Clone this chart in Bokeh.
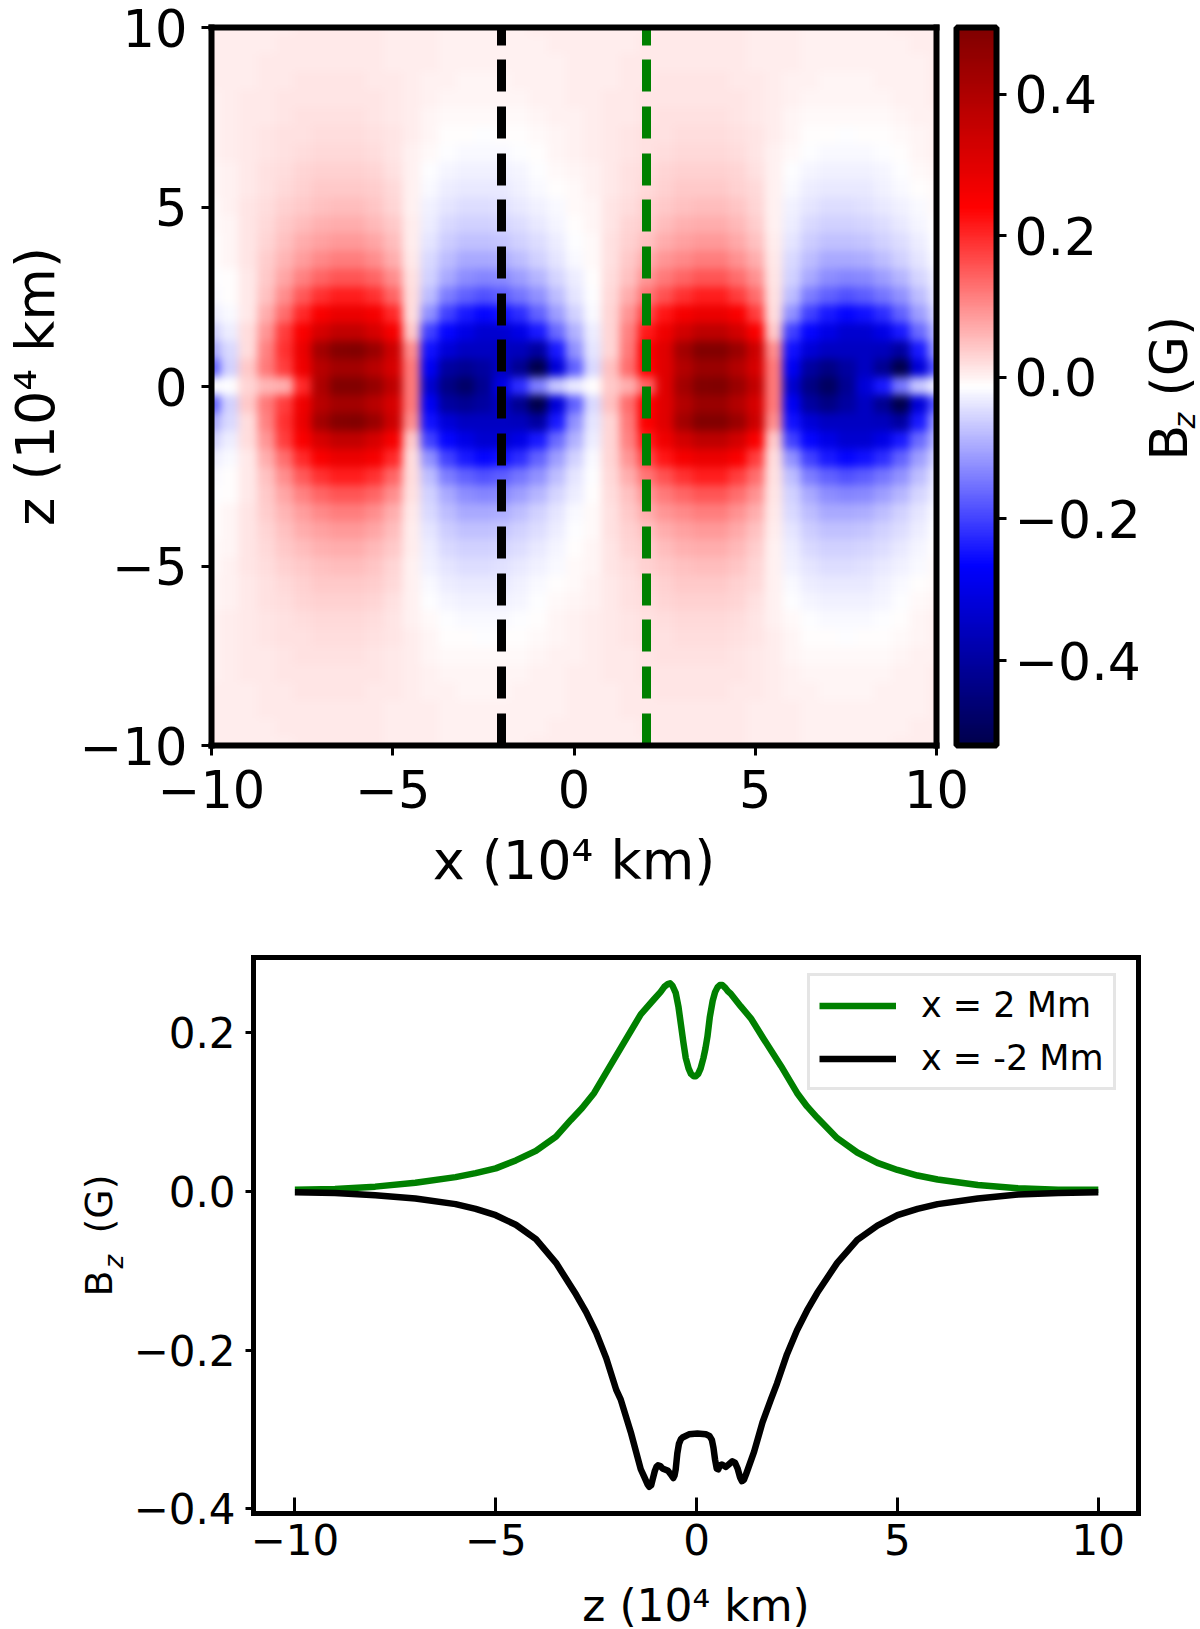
import numpy as np
from bokeh.document import Document
from bokeh.embed import file_html
from bokeh.layouts import column, row
from bokeh.models import ColorBar, CustomJS, FixedTicker, Label, Legend, LinearAxis, LinearColorMapper
from bokeh.plotting import figure
from bokeh.resources import INLINE

# Bz map, one list per z level (lower half mirrors the upper half)
# columns go from x = -10 to x = 10 in steps of 0.5
bz_z00 = [-.02,-.015,.03,.06,.07,.2,.4,.49,.49,.45,.37,.12,-.33,-.44,-.48,-.42,-.305,-.22,-.14,-.07,-.035,-.013,.04,.07,.145,.3,.42,.49,.5,.44,.36,.12,-.33,-.44,-.49,-.42,-.32,-.24,-.15,-.07,-.03]
bz_z05 = [-.17,-.06,.04,.12,.18,.27,.38,.42,.42,.38,.32,.12,-.28,-.4,-.42,-.4,-.35,-.42,-.52,-.32,-.17,-.05,.05,.13,.24,.3,.39,.44,.44,.39,.32,.12,-.28,-.4,-.44,-.4,-.35,-.42,-.52,-.32,-.18]
bz_z10 = [-.1,-.05,.02,.11,.19,.28,.42,.48,.49,.44,.34,.1,-.25,-.32,-.35,-.35,-.35,-.36,-.4,-.24,-.12,-.04,.03,.12,.245,.3,.42,.49,.49,.44,.34,.1,-.25,-.32,-.35,-.35,-.35,-.36,-.4,-.24,-.12]
bz_z15 = [-.06,-.03,.02,.09,.18,.25,.32,.36,.36,.32,.26,.04,-.2,-.26,-.3,-.33,-.33,-.3,-.24,-.16,-.09,-.03,.03,.11,.215,.27,.33,.37,.37,.33,.25,.04,-.2,-.26,-.3,-.33,-.33,-.3,-.24,-.16,-.09]
bz_z20 = [-.03,-.02,.01,.07,.13,.2,.25,.28,.28,.26,.2,.02,-.12,-.2,-.24,-.26,-.25,-.22,-.17,-.11,-.06,-.02,.03,.09,.17,.22,.26,.28,.28,.25,.18,.02,-.12,-.2,-.24,-.26,-.25,-.22,-.17,-.11,-.06]
bz_z25 = [-.02,-.012,.01,.05,.1,.15,.19,.21,.21,.19,.14,.02,-.08,-.14,-.17,-.185,-.175,-.15,-.12,-.08,-.04,-.015,.025,.07,.125,.16,.19,.21,.21,.18,.13,.015,-.08,-.14,-.17,-.185,-.175,-.15,-.12,-.08,-.04]
bz_z30 = [-.015,-.01,.01,.04,.075,.11,.14,.155,.155,.14,.1,.015,-.06,-.1,-.125,-.135,-.13,-.11,-.085,-.055,-.03,-.012,.02,.05,.093,.12,.14,.155,.155,.13,.095,.012,-.06,-.1,-.125,-.135,-.13,-.11,-.085,-.055,-.03]
bz_z35 = [-.012,-.005,.012,.035,.06,.085,.105,.115,.115,.1,.07,.01,-.05,-.08,-.1,-.1,-.095,-.08,-.06,-.04,-.02,-.008,.018,.04,.068,.09,.105,.115,.115,.095,.07,.008,-.05,-.08,-.1,-.1,-.095,-.08,-.06,-.04,-.02]
bz_z40 = [-.01,-.004,.012,.03,.05,.068,.08,.088,.088,.076,.052,.005,-.04,-.062,-.074,-.076,-.07,-.06,-.045,-.03,-.016,-.006,.016,.032,.05,.068,.08,.088,.088,.072,.05,.004,-.04,-.062,-.074,-.076,-.07,-.06,-.045,-.03,-.016]
bz_z45 = [-.008,-.002,.012,.026,.04,.054,.063,.068,.068,.058,.04,.003,-.032,-.05,-.058,-.06,-.054,-.046,-.034,-.022,-.012,-.004,.014,.028,.038,.054,.063,.068,.068,.055,.038,.002,-.032,-.05,-.058,-.06,-.055,-.046,-.034,-.022,-.012]
bz_z50 = [-.006,0,.011,.022,.032,.042,.05,.053,.053,.045,.03,.002,-.026,-.04,-.046,-.047,-.042,-.036,-.027,-.018,-.009,-.002,.012,.022,.032,.042,.05,.053,.053,.043,.03,.002,-.026,-.04,-.046,-.047,-.043,-.036,-.027,-.018,-.009]
bz_z55 = [-.005,.001,.01,.018,.026,.034,.04,.042,.042,.035,.024,.002,-.02,-.032,-.036,-.036,-.033,-.028,-.02,-.013,-.006,.001,.01,.018,.026,.034,.04,.042,.042,.034,.023,.002,-.02,-.032,-.036,-.036,-.033,-.028,-.02,-.013,-.006]
bz_z60 = [-.003,.002,.009,.015,.021,.027,.031,.033,.033,.027,.018,.002,-.014,-.023,-.027,-.027,-.025,-.021,-.015,-.009,-.003,.002,.009,.015,.021,.027,.031,.033,.033,.027,.018,.002,-.014,-.023,-.027,-.027,-.025,-.021,-.015,-.009,-.003]
bz_z65 = [-.001,.003,.008,.013,.018,.022,.025,.026,.026,.021,.014,.002,-.009,-.016,-.019,-.02,-.018,-.015,-.01,-.005,-.001,.003,.008,.013,.018,.022,.025,.026,.026,.021,.014,.002,-.009,-.016,-.019,-.02,-.018,-.015,-.01,-.005,-.001]
bz_z70 = [0,.003,.007,.011,.015,.018,.02,.021,.021,.017,.011,.003,-.005,-.01,-.013,-.014,-.012,-.01,-.006,-.002,.001,.004,.007,.011,.015,.018,.02,.021,.021,.017,.011,.003,-.005,-.01,-.013,-.014,-.012,-.01,-.006,-.002,.001]
bz_z75 = [.001,.004,.007,.01,.013,.015,.017,.017,.017,.014,.009,.004,-.002,-.006,-.008,-.009,-.008,-.006,-.003,0,.002,.005,.007,.01,.013,.015,.017,.017,.017,.014,.009,.004,-.002,-.006,-.008,-.009,-.008,-.006,-.003,0,.002]
bz_z80 = [.002,.004,.007,.009,.011,.013,.014,.014,.014,.012,.008,.004,0,-.003,-.005,-.005,-.004,-.003,-.001,.001,.003,.005,.007,.009,.011,.013,.014,.014,.014,.012,.008,.004,0,-.003,-.005,-.005,-.004,-.003,-.001,.001,.003]
bz_z85 = [.003,.004,.006,.008,.01,.011,.012,.012,.012,.01,.007,.004,.002,0,-.002,-.002,-.002,-.001,.001,.002,.003,.005,.006,.008,.01,.011,.012,.012,.012,.01,.007,.004,.002,0,-.002,-.002,-.002,-.001,.001,.002,.003]
bz_z90 = [.003,.004,.006,.007,.008,.009,.01,.01,.01,.009,.006,.004,.003,.001,0,0,0,.001,.002,.002,.003,.004,.006,.007,.008,.009,.01,.01,.01,.009,.006,.004,.003,.001,0,0,0,.001,.002,.002,.003]
bz_z95 = [.003,.004,.005,.006,.007,.008,.008,.009,.009,.008,.006,.004,.003,.002,.001,.001,.001,.002,.002,.003,.003,.004,.005,.006,.007,.008,.008,.009,.009,.008,.006,.004,.003,.002,.001,.001,.001,.002,.002,.003,.003]
bz_z100 = [.003,.004,.005,.005,.006,.007,.007,.008,.008,.007,.005,.004,.003,.002,.002,.002,.002,.002,.003,.003,.003,.004,.005,.005,.006,.007,.007,.008,.008,.007,.005,.004,.003,.002,.002,.002,.002,.002,.003,.003,.003]

# cuts along z
z_green = [-10,-9,-8,-7,-6,-5.5,-5,-4.5,-4,-3.5,-3.13,-2.85,-2.55,-2.13,-1.72,-1.39,-1.06,-.9,-.8,-.72,-.66,-.6,-.52,-.45,-.39,-.33,-.27,-.2,-.14,-.07,-.02,.04,.1,.17,.22,.27,.33,.4,.46,.52,.58,.64,.72,.78,.85,1.1,1.35,1.67,2.1,2.5,2.75,3,3.5,4,4.5,5,5.5,6,7,8,9,10]
bz_green = [.002,.003,.006,.011,.018,.023,.029,.039,.051,.069,.09,.105,.124,.16,.195,.223,.242,.251,.258,.261,.262,.259,.25,.232,.21,.188,.168,.155,.148,.145,.145,.148,.155,.168,.18,.195,.22,.24,.251,.257,.26,.26,.256,.252,.249,.233,.218,.192,.158,.124,.107,.093,.067,.049,.036,.027,.02,.015,.008,.004,.002,.002]
z_black = [-10,-9,-8,-7,-6,-5.5,-5,-4.5,-4,-3.5,-3,-2.75,-2.5,-2.25,-2,-1.89,-1.64,-1.39,-1.3,-1.22,-1.18,-1.13,-1.08,-1.04,-1,-.96,-.9,-.85,-.71,-.62,-.58,-.55,-.52,-.48,-.44,-.39,-.35,-.19,.02,.23,.32,.38,.42,.46,.5,.54,.58,.63,.73,.82,.89,.96,1.02,1.08,1.13,1.18,1.24,1.43,1.64,1.85,2,2.25,2.5,2.75,3,3.5,4,4.5,5,5.5,6,7,8,9,10]
bz_black = [-.001,-.002,-.005,-.009,-.016,-.022,-.03,-.042,-.06,-.09,-.13,-.152,-.178,-.21,-.25,-.262,-.303,-.35,-.36,-.369,-.372,-.37,-.36,-.352,-.347,-.345,-.346,-.349,-.352,-.358,-.361,-.358,-.35,-.33,-.318,-.312,-.31,-.306,-.305,-.306,-.308,-.313,-.323,-.338,-.349,-.35,-.345,-.344,-.347,-.343,-.34,-.342,-.349,-.36,-.365,-.363,-.355,-.328,-.291,-.262,-.242,-.205,-.175,-.15,-.128,-.09,-.061,-.043,-.03,-.022,-.016,-.009,-.004,-.002,-.001]

map_ticks = [-10, -5, 0, 5, 10]
cbar_ticks = [-0.4, -0.2, 0.0, 0.2, 0.4]
cut_x_ticks = [-10, -5, 0, 5, 10]
cut_y_ticks = [-0.4, -0.2, 0.0, 0.2]


def minus(v, fmt):
    return (fmt % v).replace("-", "\u2212")


def box_axes(p, width):
    # spines as axis lines, because the outline gets cut at the frame
    p.outline_line_color = None
    p.add_layout(LinearAxis(ticker=FixedTicker(ticks=[]), minor_tick_line_color=None), "above")
    p.add_layout(LinearAxis(ticker=FixedTicker(ticks=[]), minor_tick_line_color=None), "right")
    for ax in p.axis:
        ax.axis_line_color = "black"
        ax.axis_line_width = width
        ax.axis_line_cap = "square"


def vertical_label(p, x, y, text, size, **kw):
    p.add_layout(Label(x=x, y=y, x_units="screen", y_units="screen", text=text, angle=90, angle_units="deg",
                       text_font=FONT, text_font_size=size, text_color="black", text_baseline="middle", **kw))


def label_strip(width, height, top, bottom):
    # Labels get clipped to the frame, so "B_z (G)" needs a frame of its own
    s = figure(output_backend="svg", toolbar_location=None, x_range=(0, 1), y_range=(0, 1),
               x_axis_location=None, y_axis_location=None, frame_width=width, frame_height=height,
               min_border_left=0, min_border_right=0, min_border_top=top, min_border_bottom=bottom)
    s.outline_line_color = None
    s.grid.visible = False
    return s


# seismic colormap
pos = [0, 0.25, 0.5, 0.75, 1]
r = np.interp(np.linspace(0, 1, 256), pos, [0, 0, 1, 1, 0.5])
g = np.interp(np.linspace(0, 1, 256), pos, [0, 0, 1, 0, 0])
b = np.interp(np.linspace(0, 1, 256), pos, [0.3, 1, 1, 0, 0])
seismic = ["#%02x%02x%02x" % (round(a * 255), round(c * 255), round(d * 255)) for a, c, d in zip(r, g, b)]
mapper = LinearColorMapper(palette=seismic, low=-0.52, high=0.494)

upper = [bz_z00, bz_z05, bz_z10, bz_z15, bz_z20, bz_z25, bz_z30, bz_z35, bz_z40, bz_z45, bz_z50,
         bz_z55, bz_z60, bz_z65, bz_z70, bz_z75, bz_z80, bz_z85, bz_z90, bz_z95, bz_z100]
bz_map = np.array(upper[::-1] + upper[1:], dtype=float)
bz_map = np.pad(bz_map, 1, mode="edge")  # one spare cell outside the frame all around

FONT = "DejaVu Sans"
DASH = [32, 15, 32, 15, 32, 14]

################# top panel
p1 = figure(output_backend="svg", toolbar_location=None, x_range=(-10, 10), y_range=(-10, 10),
            frame_width=725, frame_height=718, min_border_left=211, min_border_right=212,
            min_border_top=27, min_border_bottom=150,
            x_axis_label="x (10\u2074 km)", y_axis_label="z (10\u2074 km)")
p1.image(image=[bz_map], x=-10.75, y=-10.75, dw=21.5, dh=21.5, color_mapper=mapper)
p1.line([-2, -2], [-10, 10], line_color="black", line_width=9, line_dash=DASH)
p1.line([2, 2], [-10, 10], line_color="green", line_width=9, line_dash=DASH)

cb = ColorBar(color_mapper=mapper, location=(745, 0), width=40, height=718, padding=0, margin=0,
              ticker=FixedTicker(ticks=cbar_ticks), major_tick_in=0, major_tick_out=10,
              major_tick_line_color="black", major_tick_line_width=3, minor_tick_line_color=None,
              bar_line_color="black", bar_line_width=6, label_standoff=8,
              major_label_text_font=FONT, major_label_text_font_size="52px", major_label_text_color="black",
              major_label_overrides={v: minus(v, "%.1f") for v in cbar_ticks})
p1.add_layout(cb, "center")

strip1 = label_strip(48, 718, 27, 150)
vertical_label(strip1, 20, 285, "B", "52px")
vertical_label(strip1, 36, 317, "z", "30px", text_font_style="italic")
vertical_label(strip1, 20, 349, "(G)", "52px")

################# bottom panel
p2 = figure(output_backend="svg", toolbar_location=None, x_range=(-11.03, 11.0), y_range=(-0.4057, 0.2946),
            frame_width=885, frame_height=556, min_border_left=128, min_border_right=54,
            min_border_top=62, min_border_bottom=107, x_axis_label="z (10\u2074 km)")
g_line = p2.line(z_green, bz_green, line_color="green", line_width=6.5, line_join="round")
k_line = p2.line(z_black, bz_black, line_color="black", line_width=6.5, line_join="round")
legend = Legend(items=[("x = 2 Mm", [g_line]), ("x = -2 Mm", [k_line])], location=(554, 423),
                glyph_width=77, glyph_height=35, label_standoff=25, label_height=35, spacing=13,
                padding=9, margin=0, label_text_font=FONT, label_text_font_size="35px", label_text_color="black",
                border_line_color="#cccccc", border_line_width=3, background_fill_alpha=0.8)
p2.add_layout(legend, "center")

strip2 = label_strip(125, 556, 62, 107)
vertical_label(strip2, 98, 217, "B", "38px")
vertical_label(strip2, 113, 245, "z", "26px", text_font_style="italic")
vertical_label(strip2, 98, 280, "(G)", "38px")

# axes styling
for p in (p1, p2):
    p.grid.visible = False
    p.axis.minor_tick_line_color = None
    p.axis.major_tick_line_color = "black"
    p.axis.major_label_text_font = FONT
    p.axis.major_label_text_color = "black"
    p.axis.axis_label_text_font = FONT
    p.axis.axis_label_text_color = "black"
    p.axis.axis_label_text_font_style = "normal"

p1.axis.major_tick_line_width = 3
p1.axis.major_tick_in = 0
p1.axis.major_tick_out = 10
p1.axis.major_label_text_font_size = "51px"
p1.axis.axis_label_text_font_size = "54px"
p1.axis.major_label_standoff = 14
p1.xaxis.axis_label_standoff = 18
p1.yaxis.axis_label_standoff = 10
p1.xaxis.ticker = FixedTicker(ticks=map_ticks)
p1.yaxis.ticker = FixedTicker(ticks=map_ticks)
p1.xaxis.major_label_overrides = {v: minus(v, "%d") for v in map_ticks}
p1.yaxis.major_label_overrides = {v: minus(v, "%d") for v in map_ticks}

p2.axis.major_tick_line_width = 3
p2.xaxis.major_tick_in = 16
p2.xaxis.major_tick_out = 0
p2.yaxis.major_tick_in = 0
p2.yaxis.major_tick_out = 8
p2.axis.major_label_text_font_size = "42px"
p2.xaxis.axis_label_text_font_size = "44px"
p2.xaxis.major_label_standoff = 10
p2.yaxis.major_label_standoff = 10
p2.xaxis.axis_label_standoff = 22
p2.xaxis.ticker = FixedTicker(ticks=cut_x_ticks)
p2.yaxis.ticker = FixedTicker(ticks=cut_y_ticks)
p2.xaxis.major_label_overrides = {v: minus(v, "%d") for v in cut_x_ticks}
p2.yaxis.major_label_overrides = {v: minus(v, "%.1f") for v in cut_y_ticks}

box_axes(p1, 6)
box_axes(p2, 5)

# the map is painted with hard cell edges, soften them in the browser
smooth = CustomJS(code="""
    function visit(root) {
        root.querySelectorAll('*').forEach((el) => {
            if (el.tagName === 'image' && el.getBoundingClientRect().width > 300)
                el.style.filter = 'blur(4.5px)'
            if (el.shadowRoot)
                visit(el.shadowRoot)
        })
    }
    visit(document)
    for (const t of [50, 200, 500, 1000, 2000])
        setTimeout(() => visit(document), t)
""")

doc = Document()
doc.add_root(column(row(p1, strip1, spacing=0), row(strip2, p2, spacing=0), spacing=0))
doc.js_on_event("document_ready", smooth)

open("out.html", "w").write(file_html(doc, INLINE))
